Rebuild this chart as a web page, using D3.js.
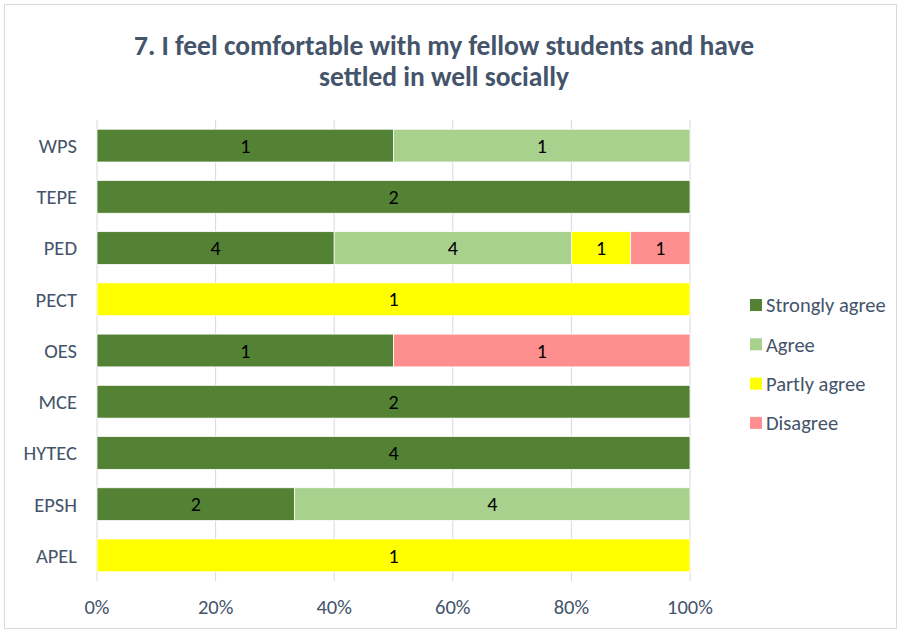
<!DOCTYPE html>
<html lang="en">
<head>
<meta charset="UTF-8">
<title>Chart</title>
<style>
  body { margin: 0; background: #fff; }
  text { font-family: Calibri, "Open Sans", sans-serif; }
</style>
</head>
<body>
<svg id="chart" width="900" height="631"></svg>
<script src="https://cdn.jsdelivr.net/npm/d3@7"></script>
<script>
  const categories = ["WPS", "TEPE", "PED", "PECT", "OES", "MCE", "HYTEC", "EPSH", "APEL"]
  const seriesNames = ["Strongly agree", "Agree", "Partly agree", "Disagree"]
  const stronglyAgree = [1, 2, 4, 0, 1, 2, 4, 2, 0]
  const agree = [1, 0, 4, 0, 0, 0, 0, 4, 0]
  const partlyAgree = [0, 0, 1, 1, 0, 0, 0, 0, 1]
  const disagree = [0, 0, 1, 0, 1, 0, 0, 0, 0]
  const colors = ["#548235", "#A9D18E", "#FFFF00", "#FF8F8F"]
  const xTicks = [0, 0.2, 0.4, 0.6, 0.8, 1]

  const textColor = "#44546A"
  const svg = d3.select("#chart")

  svg.append("rect")
     .attr("x", 4.5).attr("y", 4.5)
     .attr("width", 892).attr("height", 624)
     .attr("fill", "#fff")
     .attr("stroke", "#D9D9D9")

  const title = svg.append("text")
                   .attr("fill", textColor)
                   .attr("font-weight", "bold")
                   .attr("font-size", 27.5)
                   .attr("text-anchor", "middle")
  title.append("tspan").attr("x", 444).attr("y", 55).text("7. I feel comfortable with my fellow students and have")
  title.append("tspan").attr("x", 444).attr("y", 86).text("settled in well socially")

  const x = d3.scaleLinear().domain([0, 1]).range([97, 690])
  const y = d3.scaleBand().domain(categories).range([120, 581]).paddingInner(0.36).paddingOuter(0.18)

  // gridlines
  svg.append("g")
     .selectAll("line")
     .data(xTicks)
     .enter()
     .append("line")
     .attr("x1", d => x(d)).attr("x2", d => x(d))
     .attr("y1", 120).attr("y2", 581)
     .attr("stroke", "#D9D9D9")
     .attr("stroke-width", 1)

  const rows = categories.map((c, i) => {
    const vals = [stronglyAgree[i], agree[i], partlyAgree[i], disagree[i]]
    const total = d3.sum(vals)
    let acc = 0
    return vals.map((v, k) => {
      const seg = { cat: c, k: k, v: v, x0: acc / total, x1: (acc + v) / total }
      acc += v
      return seg
    }).filter(s => s.v > 0)
  })
  const segs = rows.flat()

  svg.append("g")
     .selectAll("rect")
     .data(segs)
     .enter()
     .append("rect")
     .attr("x", d => x(d.x0))
     .attr("y", d => y(d.cat))
     .attr("width", d => x(d.x1) - x(d.x0))
     .attr("height", y.bandwidth())
     .attr("fill", d => colors[d.k])
     .attr("stroke", "#fff")
     .attr("stroke-width", 0.75)

  svg.append("g")
     .selectAll("text")
     .data(segs)
     .enter()
     .append("text")
     .attr("x", d => (x(d.x0) + x(d.x1)) / 2)
     .attr("y", d => y(d.cat) + y.bandwidth() / 2)
     .attr("dy", "0.36em")
     .attr("text-anchor", "middle")
     .attr("font-size", 20)
     .attr("fill", "#000")
     .text(d => d.v)

  // y axis labels
  svg.append("g")
     .selectAll("text")
     .data(categories)
     .enter()
     .append("text")
     .attr("x", 77)
     .attr("y", d => y(d) + y.bandwidth() / 2)
     .attr("dy", "0.36em")
     .attr("text-anchor", "end")
     .attr("font-size", 20.5)
     .attr("fill", textColor)
     .text(d => d)

  // x axis labels
  svg.append("g")
     .selectAll("text")
     .data(xTicks)
     .enter()
     .append("text")
     .attr("x", d => x(d))
     .attr("y", 614)
     .attr("text-anchor", "middle")
     .attr("font-size", 20.5)
     .attr("fill", textColor)
     .text(d => d3.format(".0%")(d))

  // legend
  const legend = svg.append("g")
                    .selectAll("g")
                    .data(seriesNames)
                    .enter()
                    .append("g")
                    .attr("transform", (d, i) => `translate(750, ${305 + i * 39.3})`)
  legend.append("rect")
        .attr("x", 0).attr("y", -6)
        .attr("width", 12).attr("height", 12)
        .attr("fill", (d, i) => colors[i])
  legend.append("text")
        .attr("x", 16)
        .attr("dy", "0.36em")
        .attr("font-size", 20.5)
        .attr("fill", textColor)
        .text(d => d)
</script>
</body>
</html>
